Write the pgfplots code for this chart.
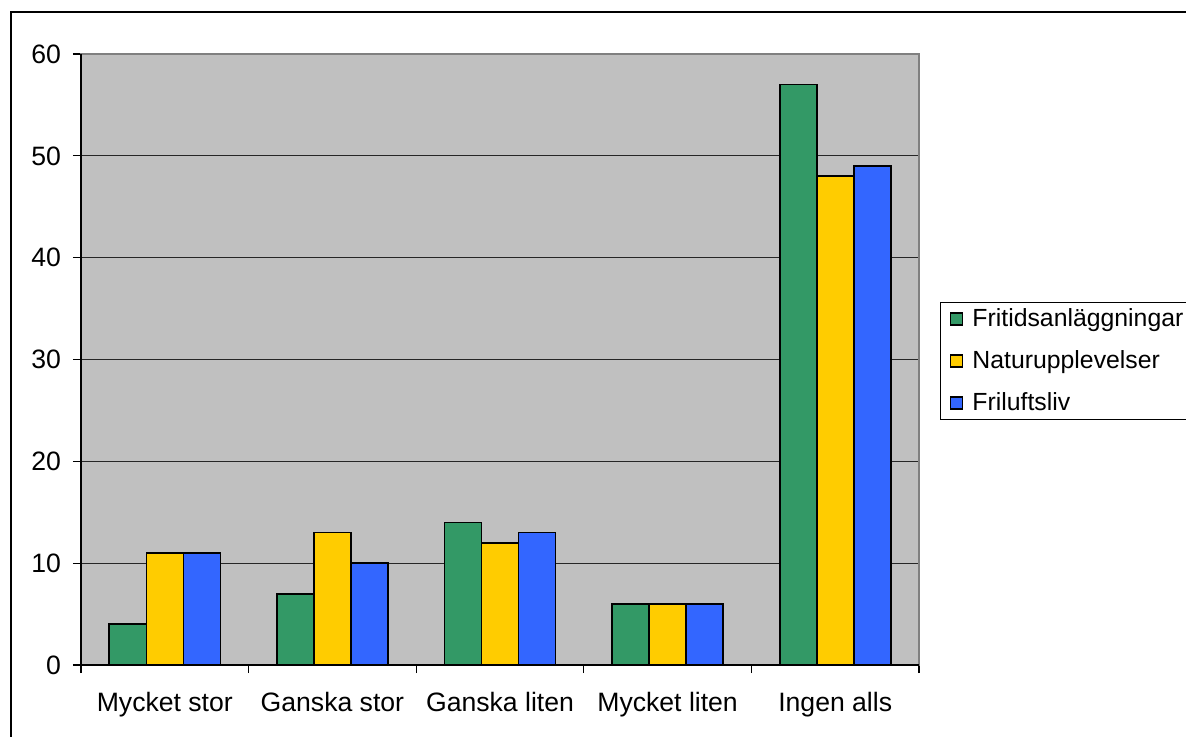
\documentclass[border=0pt]{standalone}
\usepackage{pgfplots}
\pgfplotsset{compat=1.18}
\usepackage{fontspec}
\setmainfont{Liberation Sans}
\definecolor{cgreen}{HTML}{339966}
\definecolor{cyellow}{HTML}{FFCC00}
\definecolor{cblue}{HTML}{3366FF}
\definecolor{graybg}{HTML}{C0C0C0}
\definecolor{borderg}{HTML}{808080}
\newcommand{\chartfont}{\fontsize{13.3}{16}\selectfont}
\newcommand{\legfont}{\fontsize{12.4}{15}\selectfont}
\begin{document}
\begin{tikzpicture}
\useasboundingbox (0,0) rectangle (593pt,-368.5pt);
\draw[line width=1pt] (5.25pt,-368.5pt) -- (5.25pt,-6.25pt) -- (600pt,-6.25pt);
\begin{axis}[
  at={(40.5pt,-332.5pt)}, anchor=south west,
  scale only axis, width=419pt, height=305.5pt,
  ybar=0pt, bar width=18.5pt,
  xmin=0.5, xmax=5.5, ymin=0, ymax=60,
  xtick={1,2,3,4,5},
  xticklabels={Mycket stor,Ganska stor,Ganska liten,Mycket liten,Ingen alls},
  minor xtick={0.5,1.5,2.5,3.5,4.5,5.5},
  ytick={0,10,20,30,40,50,60},
  ymajorgrids, major grid style={draw=black!85, line width=0.5pt},
  y tick style={draw=black, line width=0.6pt},
  major x tick style={draw=none},
  minor x tick style={draw=black, line width=0.6pt},
  minor tick length=4pt,
  major tick length=4pt,
  ytick pos=left, xtick pos=bottom,
  tick align=outside,
  axis line style={draw=borderg, line width=0.8pt},
  axis background/.style={fill=graybg},
  tick label style={font=\chartfont},
  /pgf/number format/assume math mode=true,
  xticklabel style={yshift=-6pt},
  yticklabel style={xshift=-2.5pt},
  legend style={at={(rel axis cs:1.025,0.594)}, anchor=north west,
    draw=black, fill=white, font=\legfont, line width=0.5pt,
    row sep=6.5pt, inner xsep=3pt, inner ysep=1pt},
  legend cell align=left,
  legend image code/.code={\path[draw=none,fill=none] (0pt,0pt) -- (11pt,0pt);\draw[#1,draw=black,line width=0.6pt] (2pt,-3pt) rectangle (8pt,3pt);},
  every axis plot/.append style={draw=black, line width=0.8pt},
  after end axis/.code={
    \draw[black, line width=0.8pt] (rel axis cs:0,1) -- (rel axis cs:0,0) -- (rel axis cs:1,0);
  },
]
\addplot[fill=cgreen] coordinates {(1,4) (2,7) (3,14) (4,6) (5,57)};
\addplot[fill=cyellow] coordinates {(1,11) (2,13) (3,12) (4,6) (5,48)};
\addplot[fill=cblue] coordinates {(1,11) (2,10) (3,13) (4,6) (5,49)};
\legend{Fritidsanläggningar,Naturupplevelser,Friluftsliv}
\end{axis}
\end{tikzpicture}
\end{document}
